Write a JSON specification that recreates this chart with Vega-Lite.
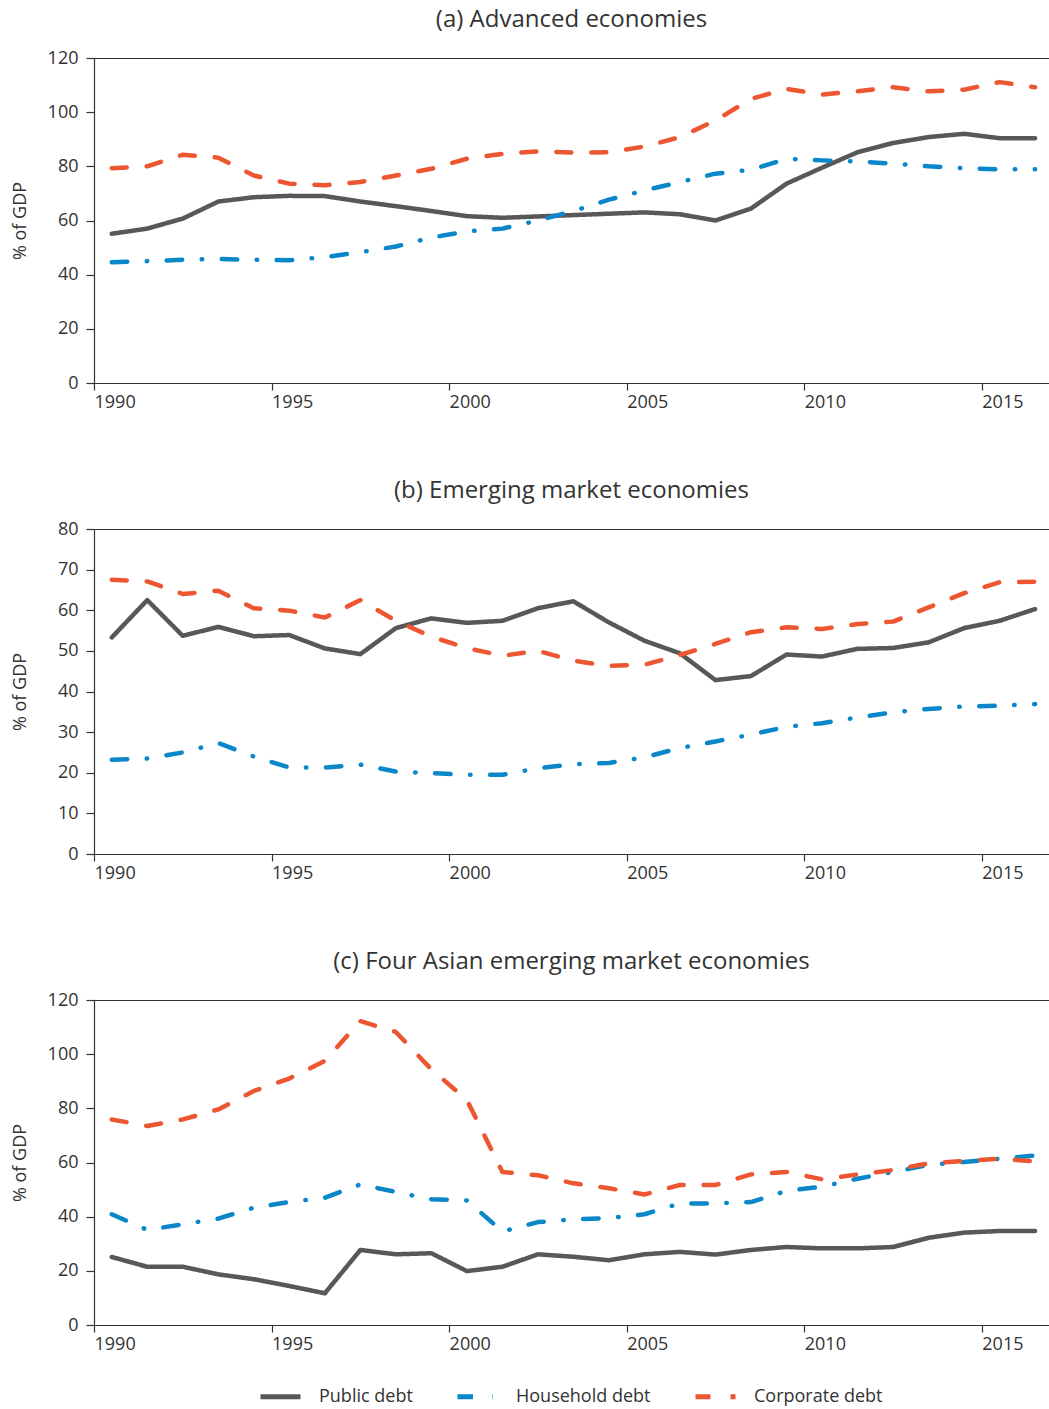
{
  "$schema": "https://vega.github.io/schema/vega-lite/v6.json",
  "padding": {"left": 10, "top": 7, "right": 0, "bottom": 0},
  "datasets": {
    "a": [
      {"year": "1990", "Public debt": 55.1, "Household debt": 44.6, "Corporate debt": 79.3},
      {"year": "1991", "Public debt": 57.0, "Household debt": 45.0, "Corporate debt": 80.0},
      {"year": "1992", "Public debt": 60.7, "Household debt": 45.5, "Corporate debt": 84.3},
      {"year": "1993", "Public debt": 67.0, "Household debt": 45.8, "Corporate debt": 83.2},
      {"year": "1994", "Public debt": 68.6, "Household debt": 45.5, "Corporate debt": 76.6},
      {"year": "1995", "Public debt": 69.1, "Household debt": 45.3, "Corporate debt": 73.6},
      {"year": "1996", "Public debt": 69.0, "Household debt": 46.5, "Corporate debt": 73.0},
      {"year": "1997", "Public debt": 67.0, "Household debt": 48.3, "Corporate debt": 74.2},
      {"year": "1998", "Public debt": 65.3, "Household debt": 50.4, "Corporate debt": 76.6},
      {"year": "1999", "Public debt": 63.5, "Household debt": 53.7, "Corporate debt": 79.1},
      {"year": "2000", "Public debt": 61.6, "Household debt": 56.0, "Corporate debt": 82.8},
      {"year": "2001", "Public debt": 61.0, "Household debt": 57.0, "Corporate debt": 84.6},
      {"year": "2002", "Public debt": 61.5, "Household debt": 60.0, "Corporate debt": 85.5},
      {"year": "2003", "Public debt": 62.0, "Household debt": 63.5, "Corporate debt": 85.1},
      {"year": "2004", "Public debt": 62.5, "Household debt": 67.7, "Corporate debt": 85.2},
      {"year": "2005", "Public debt": 63.0, "Household debt": 71.1, "Corporate debt": 87.3},
      {"year": "2006", "Public debt": 62.3, "Household debt": 74.2, "Corporate debt": 90.8},
      {"year": "2007", "Public debt": 60.0, "Household debt": 77.3, "Corporate debt": 96.9},
      {"year": "2008", "Public debt": 64.4, "Household debt": 78.7, "Corporate debt": 104.9},
      {"year": "2009", "Public debt": 73.6, "Household debt": 82.8, "Corporate debt": 108.6},
      {"year": "2010", "Public debt": 79.5, "Household debt": 82.2, "Corporate debt": 106.5},
      {"year": "2011", "Public debt": 85.2, "Household debt": 81.8, "Corporate debt": 107.7},
      {"year": "2012", "Public debt": 88.6, "Household debt": 81.0, "Corporate debt": 109.2},
      {"year": "2013", "Public debt": 90.8, "Household debt": 80.0, "Corporate debt": 107.7},
      {"year": "2014", "Public debt": 92.0, "Household debt": 79.3, "Corporate debt": 108.3},
      {"year": "2015", "Public debt": 90.4, "Household debt": 78.9, "Corporate debt": 111.1},
      {"year": "2016", "Public debt": 90.4, "Household debt": 78.9, "Corporate debt": 109.2}
    ],
    "b": [
      {"year": "1990", "Public debt": 53.3, "Household debt": 23.2, "Corporate debt": 67.5},
      {"year": "1991", "Public debt": 62.5, "Household debt": 23.5, "Corporate debt": 67.1},
      {"year": "1992", "Public debt": 53.7, "Household debt": 25.0, "Corporate debt": 64.0},
      {"year": "1993", "Public debt": 55.9, "Household debt": 27.3, "Corporate debt": 64.8},
      {"year": "1994", "Public debt": 53.6, "Household debt": 24.0, "Corporate debt": 60.5},
      {"year": "1995", "Public debt": 53.9, "Household debt": 21.3, "Corporate debt": 59.9},
      {"year": "1996", "Public debt": 50.6, "Household debt": 21.3, "Corporate debt": 58.2},
      {"year": "1997", "Public debt": 49.2, "Household debt": 22.0, "Corporate debt": 62.5},
      {"year": "1998", "Public debt": 55.6, "Household debt": 20.3, "Corporate debt": 57.4},
      {"year": "1999", "Public debt": 58.0, "Household debt": 19.9, "Corporate debt": 53.5},
      {"year": "2000", "Public debt": 56.9, "Household debt": 19.5, "Corporate debt": 50.7},
      {"year": "2001", "Public debt": 57.4, "Household debt": 19.5, "Corporate debt": 48.8},
      {"year": "2002", "Public debt": 60.5, "Household debt": 21.1, "Corporate debt": 50.0},
      {"year": "2003", "Public debt": 62.2, "Household debt": 22.1, "Corporate debt": 47.6},
      {"year": "2004", "Public debt": 57.0, "Household debt": 22.4, "Corporate debt": 46.3},
      {"year": "2005", "Public debt": 52.5, "Household debt": 23.8, "Corporate debt": 46.6},
      {"year": "2006", "Public debt": 49.4, "Household debt": 26.1, "Corporate debt": 49.0},
      {"year": "2007", "Public debt": 42.8, "Household debt": 27.7, "Corporate debt": 51.7},
      {"year": "2008", "Public debt": 43.8, "Household debt": 29.4, "Corporate debt": 54.6},
      {"year": "2009", "Public debt": 49.1, "Household debt": 31.3, "Corporate debt": 55.8},
      {"year": "2010", "Public debt": 48.6, "Household debt": 32.2, "Corporate debt": 55.4},
      {"year": "2011", "Public debt": 50.5, "Household debt": 33.6, "Corporate debt": 56.6},
      {"year": "2012", "Public debt": 50.7, "Household debt": 34.9, "Corporate debt": 57.2},
      {"year": "2013", "Public debt": 52.1, "Household debt": 35.7, "Corporate debt": 60.7},
      {"year": "2014", "Public debt": 55.6, "Household debt": 36.3, "Corporate debt": 64.2},
      {"year": "2015", "Public debt": 57.4, "Household debt": 36.5, "Corporate debt": 66.9},
      {"year": "2016", "Public debt": 60.3, "Household debt": 36.9, "Corporate debt": 67.0}
    ],
    "c": [
      {"year": "1990", "Public debt": 25.1, "Household debt": 40.9, "Corporate debt": 75.9},
      {"year": "1991", "Public debt": 21.5, "Household debt": 35.1, "Corporate debt": 73.5},
      {"year": "1992", "Public debt": 21.5, "Household debt": 37.2, "Corporate debt": 75.9},
      {"year": "1993", "Public debt": 18.7, "Household debt": 39.3, "Corporate debt": 79.6},
      {"year": "1994", "Public debt": 16.9, "Household debt": 43.3, "Corporate debt": 86.4},
      {"year": "1995", "Public debt": 14.4, "Household debt": 45.4, "Corporate debt": 91.0},
      {"year": "1996", "Public debt": 11.7, "Household debt": 47.0, "Corporate debt": 97.5},
      {"year": "1997", "Public debt": 27.7, "Household debt": 51.9, "Corporate debt": 112.2},
      {"year": "1998", "Public debt": 26.1, "Household debt": 49.1, "Corporate debt": 108.2},
      {"year": "1999", "Public debt": 26.5, "Household debt": 46.4, "Corporate debt": 94.4},
      {"year": "2000", "Public debt": 19.9, "Household debt": 46.0, "Corporate debt": 83.1},
      {"year": "2001", "Public debt": 21.5, "Household debt": 34.5, "Corporate debt": 56.5},
      {"year": "2002", "Public debt": 26.1, "Household debt": 38.0, "Corporate debt": 55.3},
      {"year": "2003", "Public debt": 25.2, "Household debt": 39.0, "Corporate debt": 52.3},
      {"year": "2004", "Public debt": 23.9, "Household debt": 39.5, "Corporate debt": 50.5},
      {"year": "2005", "Public debt": 26.1, "Household debt": 40.9, "Corporate debt": 48.2},
      {"year": "2006", "Public debt": 27.0, "Household debt": 44.9, "Corporate debt": 51.7},
      {"year": "2007", "Public debt": 26.0, "Household debt": 44.9, "Corporate debt": 51.7},
      {"year": "2008", "Public debt": 27.7, "Household debt": 45.4, "Corporate debt": 55.6},
      {"year": "2009", "Public debt": 28.8, "Household debt": 49.5, "Corporate debt": 56.5},
      {"year": "2010", "Public debt": 28.3, "Household debt": 51.1, "Corporate debt": 53.8},
      {"year": "2011", "Public debt": 28.3, "Household debt": 54.0, "Corporate debt": 55.6},
      {"year": "2012", "Public debt": 28.8, "Household debt": 56.5, "Corporate debt": 57.2},
      {"year": "2013", "Public debt": 32.2, "Household debt": 59.1, "Corporate debt": 59.7},
      {"year": "2014", "Public debt": 34.1, "Household debt": 60.2, "Corporate debt": 60.6},
      {"year": "2015", "Public debt": 34.7, "Household debt": 61.4, "Corporate debt": 61.4},
      {"year": "2016", "Public debt": 34.7, "Household debt": 62.6, "Corporate debt": 60.4}
    ]
  },
  "vconcat": [
    {
      "title": "(a) Advanced economies",
      "width": 955,
      "height": 325,
      "data": {"name": "a"},
      "transform": [{"fold": ["Public debt", "Household debt", "Corporate debt"], "as": ["series", "value"]}],
      "mark": {"type": "line", "strokeWidth": 4.5, "strokeCap": "round", "strokeJoin": "round"},
      "encoding": {
        "x": {"field": "year", "type": "temporal", "timeUnit": "utcyear", "bandPosition": 0.5,
          "scale": {"type": "utc", "nice": false, "domain": [{"year": 1990, "utc": true}, {"year": 2016, "month": 11, "date": 22, "utc": true}]},
          "axis": {"title": null, "format": "%Y", "values": [{"year": 1990, "utc": true}, {"year": 1995, "utc": true}, {"year": 2000, "utc": true}, {"year": 2005, "utc": true}, {"year": 2010, "utc": true}, {"year": 2015, "utc": true}]}},
        "y": {"field": "value", "type": "quantitative", "scale": {"domain": [0, 120], "nice": false},
          "axis": {"title": "% of GDP", "values": [0, 20, 40, 60, 80, 100, 120]}},
        "color": {"field": "series", "type": "nominal", "sort": ["Public debt", "Household debt", "Corporate debt"],
          "scale": {"domain": ["Public debt", "Household debt", "Corporate debt"], "range": ["#585858", "#0a87c9", "#ec5630"]},
          "legend": {"title": null, "orient": "none", "direction": "horizontal", "legendX": 164, "legendY": 1316}},
        "strokeDash": {"field": "series", "type": "nominal", "sort": ["Public debt", "Household debt", "Corporate debt"],
          "scale": {"domain": ["Public debt", "Household debt", "Corporate debt"], "range": [[1, 0], [15.5, 19.5, 0.5, 19.5], [15, 20]]},
          "legend": {"title": null, "orient": "none", "direction": "horizontal", "legendX": 164, "legendY": 1316}}
      }
    },
    {
      "title": "(b) Emerging market economies",
      "width": 955,
      "height": 325,
      "data": {"name": "b"},
      "transform": [{"fold": ["Public debt", "Household debt", "Corporate debt"], "as": ["series", "value"]}],
      "mark": {"type": "line", "strokeWidth": 4.5, "strokeCap": "round", "strokeJoin": "round"},
      "encoding": {
        "x": {"field": "year", "type": "temporal", "timeUnit": "utcyear", "bandPosition": 0.5,
          "scale": {"type": "utc", "nice": false, "domain": [{"year": 1990, "utc": true}, {"year": 2016, "month": 11, "date": 22, "utc": true}]},
          "axis": {"title": null, "format": "%Y", "values": [{"year": 1990, "utc": true}, {"year": 1995, "utc": true}, {"year": 2000, "utc": true}, {"year": 2005, "utc": true}, {"year": 2010, "utc": true}, {"year": 2015, "utc": true}]}},
        "y": {"field": "value", "type": "quantitative", "scale": {"domain": [0, 80], "nice": false},
          "axis": {"title": "% of GDP", "values": [0, 10, 20, 30, 40, 50, 60, 70, 80]}},
        "color": {"field": "series", "type": "nominal", "sort": ["Public debt", "Household debt", "Corporate debt"],
          "scale": {"domain": ["Public debt", "Household debt", "Corporate debt"], "range": ["#585858", "#0a87c9", "#ec5630"]},
          "legend": {"title": null, "orient": "none", "direction": "horizontal", "legendX": 164, "legendY": 1316}},
        "strokeDash": {"field": "series", "type": "nominal", "sort": ["Public debt", "Household debt", "Corporate debt"],
          "scale": {"domain": ["Public debt", "Household debt", "Corporate debt"], "range": [[1, 0], [15.5, 19.5, 0.5, 19.5], [15, 20]]},
          "legend": {"title": null, "orient": "none", "direction": "horizontal", "legendX": 164, "legendY": 1316}}
      }
    },
    {
      "title": "(c) Four Asian emerging market economies",
      "width": 955,
      "height": 325,
      "data": {"name": "c"},
      "transform": [{"fold": ["Public debt", "Household debt", "Corporate debt"], "as": ["series", "value"]}],
      "mark": {"type": "line", "strokeWidth": 4.5, "strokeCap": "round", "strokeJoin": "round"},
      "encoding": {
        "x": {"field": "year", "type": "temporal", "timeUnit": "utcyear", "bandPosition": 0.5,
          "scale": {"type": "utc", "nice": false, "domain": [{"year": 1990, "utc": true}, {"year": 2016, "month": 11, "date": 22, "utc": true}]},
          "axis": {"title": null, "format": "%Y", "values": [{"year": 1990, "utc": true}, {"year": 1995, "utc": true}, {"year": 2000, "utc": true}, {"year": 2005, "utc": true}, {"year": 2010, "utc": true}, {"year": 2015, "utc": true}]}},
        "y": {"field": "value", "type": "quantitative", "scale": {"domain": [0, 120], "nice": false},
          "axis": {"title": "% of GDP", "values": [0, 20, 40, 60, 80, 100, 120]}},
        "color": {"field": "series", "type": "nominal", "sort": ["Public debt", "Household debt", "Corporate debt"],
          "scale": {"domain": ["Public debt", "Household debt", "Corporate debt"], "range": ["#585858", "#0a87c9", "#ec5630"]},
          "legend": {"title": null, "orient": "none", "direction": "horizontal", "legendX": 164, "legendY": 1316}},
        "strokeDash": {"field": "series", "type": "nominal", "sort": ["Public debt", "Household debt", "Corporate debt"],
          "scale": {"domain": ["Public debt", "Household debt", "Corporate debt"], "range": [[1, 0], [15.5, 19.5, 0.5, 19.5], [15, 20]]},
          "legend": {"title": null, "orient": "none", "direction": "horizontal", "legendX": 164, "legendY": 1316}}
      }
    }
  ],
  "spacing": 66,
  "resolve": {"scale": {"y": "independent"}},
  "config": {
    "font": "Open Sans",
    "view": {"stroke": "#333333", "strokeWidth": 1},
    "title": {"font": "Open Sans", "fontSize": 24, "fontWeight": "normal", "color": "#333333", "offset": 17},
    "axis": {
      "grid": false,
      "labelFont": "Open Sans", "labelFontSize": 18, "labelColor": "#333333",
      "titleFont": "Open Sans", "titleFontSize": 18, "titleFontWeight": "normal", "titleColor": "#333333",
      "domainColor": "#333333", "tickColor": "#333333", "domainWidth": 1.2, "tickWidth": 1.2
    },
    "axisX": {"labelAlign": "left", "tickSize": 7, "labelPadding": 3, "labelFlush": false, "labelOverlap": false},
    "axisY": {"tickSize": 8, "labelPadding": 8, "titleX": -65},
    "legend": {
      "labelFont": "Open Sans", "labelFontSize": 18, "labelColor": "#333333",
      "symbolType": "stroke", "symbolSize": 1600, "symbolStrokeWidth": 5,
      "labelOffset": 16, "columnPadding": 34
    }
  }
}
